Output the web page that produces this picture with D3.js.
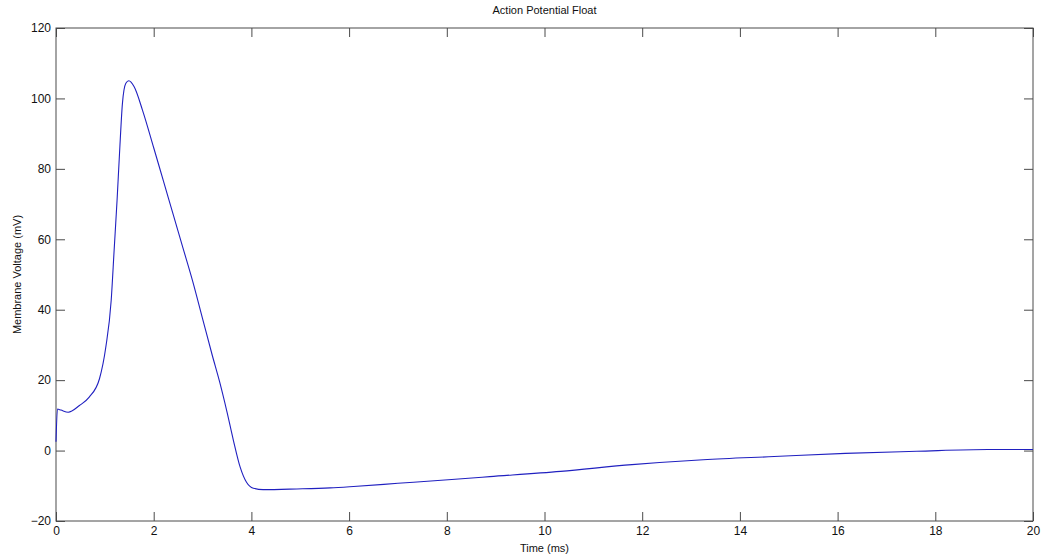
<!DOCTYPE html>
<html>
<head>
<meta charset="UTF-8">
<script src="https://d3js.org/d3.v7.min.js"></script>
<style>
  body { margin: 0; background: #fff; font-family: "Liberation Sans", Arial, sans-serif; }
  svg { display: block; }
</style>
</head>
<body>
<svg width="1050" height="559"></svg>
<script>
// time (ms) and membrane voltage (mV)
const timeMs = [0, 0.03, 0.1, 0.25, 0.48, 0.68, 0.89, 1.02, 1.13, 1.19, 1.25, 1.30, 1.36, 1.43, 1.49, 1.60, 1.77,
  2.0, 2.2, 2.4, 2.6, 2.8, 3.0, 3.2, 3.35, 3.5, 3.63, 3.77, 3.90, 4.04, 4.24, 4.93, 5.61, 6.09,
  7.0, 8.10, 8.88, 10.33, 11.79, 13.25, 14.70, 16.16, 17.62, 19.08, 20];
const voltage = [2.5, 11.8, 11.5, 10.9, 12.8, 15.2, 20.4, 29.4, 42.7, 56.9, 71.1, 84.3, 98.6, 104.3, 105, 103.3, 96.7,
  86, 76.5, 67, 57.5, 48, 37.5, 27, 19.5, 11, 3, -4.7, -9.0, -10.7, -11.1, -10.9, -10.6, -10.2,
  -9.3, -8.2, -7.4, -5.9, -4.0, -2.6, -1.7, -0.8, -0.2, 0.3, 0.3];
const xTicks = [0, 2, 4, 6, 8, 10, 12, 14, 16, 18, 20];
const yTicks = [-20, 0, 20, 40, 60, 80, 100, 120];

const data = timeMs.map((t, i) => ({ t: t, v: voltage[i] }));

const margin = { top: 28, right: 17, bottom: 38, left: 56 },
      width = 1050 - margin.left - margin.right,
      height = 559 - margin.top - margin.bottom;

const svg = d3.select("svg");
const g = svg.append("g").attr("transform", `translate(${margin.left},${margin.top})`);

const x = d3.scaleLinear().domain([0, 20]).range([0, width]);
const y = d3.scaleLinear().domain([-20, 120]).range([height, 0]);

const tickLen = 9;
const axisColor = "#4a4a4a";

function styleAxis(sel, showLabels) {
  sel.select(".domain").remove();
  sel.selectAll(".tick line").attr("stroke", axisColor);
  sel.selectAll(".tick text")
    .attr("fill", "#111")
    .style("font-size", "12px")
    .style("font-family", "'Liberation Sans', Arial, sans-serif")
    .style("display", showLabels ? null : "none");
}

// bottom / top
g.append("g").attr("transform", `translate(0,${height})`)
  .call(d3.axisBottom(x).tickValues(xTicks).tickSize(-tickLen).tickPadding(5))
  .call(s => styleAxis(s, true));
g.append("g")
  .call(d3.axisTop(x).tickValues(xTicks).tickSize(-tickLen))
  .call(s => styleAxis(s, false));
// left / right
g.append("g")
  .call(d3.axisLeft(y).tickValues(yTicks).tickSize(-tickLen).tickPadding(5))
  .call(s => styleAxis(s, true));
g.append("g").attr("transform", `translate(${width},0)`)
  .call(d3.axisRight(y).tickValues(yTicks).tickSize(-tickLen))
  .call(s => styleAxis(s, false));

// box
g.append("rect")
  .attr("width", width).attr("height", height)
  .attr("fill", "none").attr("stroke", axisColor).attr("stroke-width", 1);

const line = d3.line()
  .x(d => x(d.t))
  .y(d => y(d.v))
  .curve(d3.curveMonotoneX);

g.append("path")
  .datum(data)
  .attr("d", line)
  .attr("fill", "none")
  .attr("stroke", "#2020c0")
  .attr("stroke-width", 1.1);

// title and labels
svg.append("text")
  .attr("x", margin.left + width / 2).attr("y", 14)
  .attr("text-anchor", "middle")
  .style("font-size", "11px").attr("fill", "#111")
  .text("Action Potential Float");

svg.append("text")
  .attr("x", margin.left + width / 2).attr("y", 552)
  .attr("text-anchor", "middle")
  .style("font-size", "11px").attr("fill", "#111")
  .text("Time (ms)");

svg.append("text")
  .attr("transform", `translate(21,${margin.top + height / 2}) rotate(-90)`)
  .attr("text-anchor", "middle")
  .style("font-size", "11px").attr("fill", "#111")
  .text("Membrane Voltage (mV)");
</script>
</body>
</html>
